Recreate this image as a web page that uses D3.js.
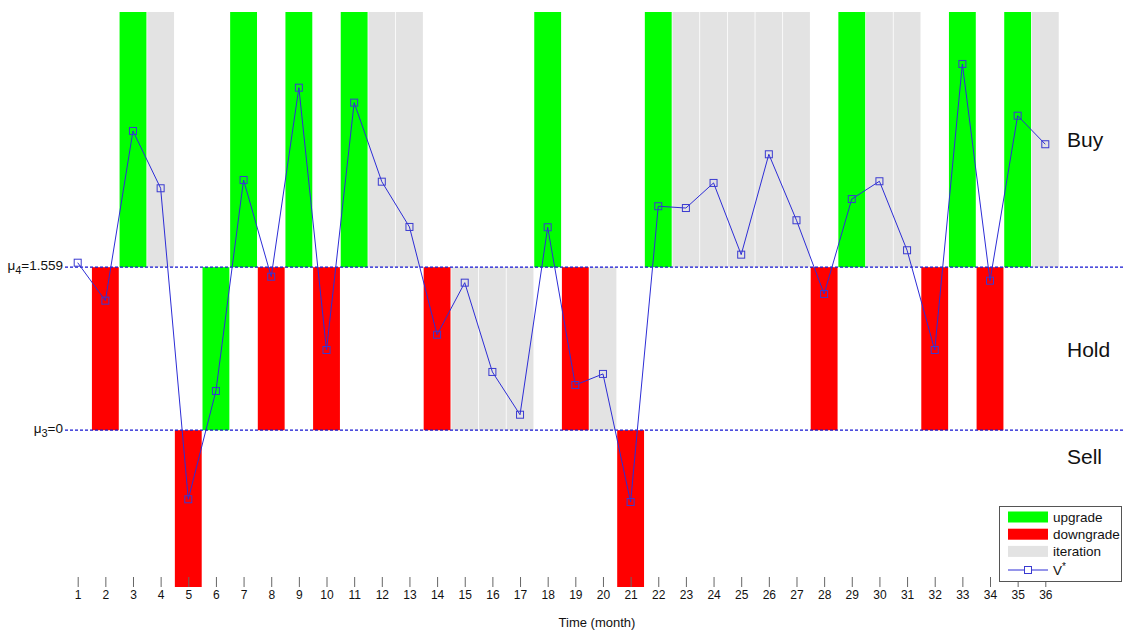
<!DOCTYPE html>
<html>
<head>
<meta charset="utf-8">
<script src="https://cdn.jsdelivr.net/npm/d3@7"></script>
<style>
  html, body { margin: 0; padding: 0; background: #fff; }
  svg { display: block; font-family: "Liberation Sans", Arial, sans-serif; }
</style>
</head>
<body>
<svg id="chart" width="1123" height="631"></svg>
<script>
// Months on the time axis
const months = [1,2,3,4,5,6,7,8,9,10,11,12,13,14,15,16,17,18,19,20,21,22,23,24,25,26,27,28,29,30,31,32,33,34,35,36];

// V* value in each month
const vStar = [1.602, 1.239, 2.862, 2.314, -0.661, 0.375, 2.393, 1.468, 3.276, 0.767,
               3.133, 2.377, 1.944, 0.913, 1.411, 0.557, 0.148, 1.941, 0.432, 0.538,
               -0.687, 2.142, 2.125, 2.365, 1.679, 2.639, 2.008, 1.303, 2.211, 2.381,
               1.721, 0.767, 3.503, 1.430, 3.008, 2.735];

// Rating action taken in each month ("" = no action)
const actions = ["", "downgrade", "upgrade", "iteration", "downgrade", "upgrade", "upgrade", "downgrade", "upgrade", "downgrade",
                 "upgrade", "iteration", "iteration", "downgrade", "iteration", "iteration", "iteration", "upgrade", "downgrade", "iteration",
                 "downgrade", "upgrade", "iteration", "iteration", "iteration", "iteration", "iteration", "downgrade", "upgrade", "iteration",
                 "iteration", "downgrade", "upgrade", "downgrade", "upgrade", "iteration"];

// Zone thresholds
const mu3 = 0;
const mu4 = 1.559;
const yDomain = [-1.5, 4];

// Zone names and the level each one is written at
const zoneNames = ["Buy", "Hold", "Sell"];
const zoneLabelLevels = [2.776, 0.77, -0.25];

const actionColor = { upgrade: "#00ff00", downgrade: "#ff0000", iteration: "#e3e3e3" };
const legendItems = ["upgrade", "downgrade", "iteration"];

const svg = d3.select("#chart");

const x = d3.scaleLinear().domain([1, 36]).range([77.7, 1045.3]);
const y = d3.scaleLinear().domain(yDomain).range([587, 12]);
const step = x(2) - x(1);

// Vertical extent of the zone that holds a value
function zoneOf(v) {
  if (v >= mu4) return [mu4, yDomain[1]];
  if (v >= mu3) return [mu3, mu4];
  return [yDomain[0], mu3];
}

const data = months.map((m, i) => ({ m, v: vStar[i], a: actions[i] }));

// Action bars, each filling the zone of that month's V*
svg.append("g").selectAll("rect")
  .data(data.filter(d => d.a))
  .join("rect")
  .attr("x", d => x(d.m) - step / 2 + 0.4)
  .attr("width", step - 0.8)
  .attr("y", d => y(zoneOf(d.v)[1]))
  .attr("height", d => y(zoneOf(d.v)[0]) - y(zoneOf(d.v)[1]))
  .attr("fill", d => actionColor[d.a]);

// Threshold lines
svg.append("g").selectAll("line")
  .data([mu4, mu3])
  .join("line")
  .attr("x1", 65).attr("x2", 1123)
  .attr("y1", d => y(d)).attr("y2", d => y(d))
  .attr("stroke", "#1414d2")
  .attr("stroke-width", 1.2)
  .attr("stroke-dasharray", "3,2");

// Threshold labels
const thrLabels = svg.append("g").attr("font-size", 13.5).attr("fill", "#111");
[[mu4, "4", "=1.559"], [mu3, "3", "=0"]].forEach(([v, sub, rest]) => {
  const t = thrLabels.append("text")
    .attr("x", 63).attr("y", y(v) + 2.5)
    .attr("text-anchor", "end");
  t.append("tspan").text("\u03bc");
  t.append("tspan").attr("dy", 4).attr("font-size", 11).text(sub);
  t.append("tspan").attr("dy", -4).text(rest);
});

// V* line and markers
const line = d3.line().x(d => x(d.m)).y(d => y(d.v));
svg.append("path")
  .datum(data)
  .attr("d", line)
  .attr("fill", "none")
  .attr("stroke", "#2d2dd6")
  .attr("stroke-width", 1);

svg.append("g").selectAll("rect")
  .data(data)
  .join("rect")
  .attr("x", d => x(d.m) - 3.5)
  .attr("y", d => y(d.v) - 3.5)
  .attr("width", 7).attr("height", 7)
  .attr("fill", "none")
  .attr("stroke", "#3a3ad0")
  .attr("stroke-width", 1);

// Zone names on the right
svg.append("g").selectAll("text")
  .data(zoneNames)
  .join("text")
  .attr("x", 1067)
  .attr("y", (d, i) => y(zoneLabelLevels[i]) + 7.5)
  .attr("font-size", 21)
  .attr("fill", "#111")
  .text(d => d);

// Time axis: ticks and labels, no baseline
const xAxis = d3.axisBottom(x).tickValues(months).tickSize(10).tickPadding(3).tickFormat(d3.format("d"));
const gx = svg.append("g").attr("transform", "translate(0,577)").call(xAxis);
gx.select(".domain").remove();
gx.selectAll(".tick line").attr("stroke", "#666");
gx.selectAll(".tick text").attr("font-size", 12).attr("fill", "#111").attr("font-family", "Liberation Sans, Arial, sans-serif");

svg.append("text")
  .attr("x", 597).attr("y", 627)
  .attr("text-anchor", "middle")
  .attr("font-size", 13)
  .attr("fill", "#111")
  .text("Time (month)");

// Legend
const lg = svg.append("g");
lg.append("rect")
  .attr("x", 999.5).attr("y", 506.5)
  .attr("width", 122).attr("height", 75)
  .attr("fill", "#fff")
  .attr("stroke", "#555");
legendItems.forEach((k, i) => {
  const cy = 517 + i * 17.2;
  lg.append("rect")
    .attr("x", 1008).attr("y", cy - 5.5)
    .attr("width", 40).attr("height", 11)
    .attr("fill", actionColor[k]);
  lg.append("text")
    .attr("x", 1053).attr("y", cy + 5)
    .attr("font-size", 13.5).attr("fill", "#111")
    .text(k);
});
const ly = 570;
lg.append("line")
  .attr("x1", 1008).attr("x2", 1048)
  .attr("y1", ly).attr("y2", ly)
  .attr("stroke", "#2d2dd6");
lg.append("rect")
  .attr("x", 1024.5).attr("y", ly - 3.5)
  .attr("width", 7).attr("height", 7)
  .attr("fill", "#fff").attr("stroke", "#3a3ad0");
const vt = lg.append("text")
  .attr("x", 1053).attr("y", ly + 5)
  .attr("font-size", 13.5).attr("fill", "#111");
vt.append("tspan").text("V");
vt.append("tspan").attr("dy", -5).attr("font-size", 10).text("*");
</script>
</body>
</html>
